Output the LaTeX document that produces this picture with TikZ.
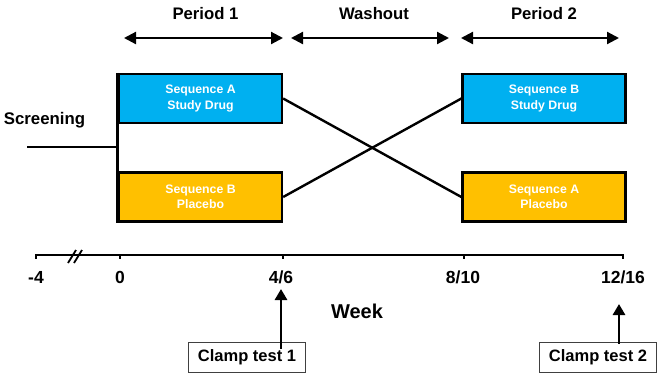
\documentclass[tikz,border=0pt]{standalone}
\usepackage{fontspec}
\setmainfont{Liberation Sans}
\usetikzlibrary{arrows.meta}
\definecolor{seqblue}{HTML}{00B0F0}
\definecolor{seqyellow}{HTML}{FFC000}
\tikzset{
  seqbox/.style={draw=black, line width=2.3pt, minimum width=163pt, minimum height=49pt,
    text=white, align=center, font=\fontsize{12.3}{15.5}\selectfont\bfseries, inner sep=0pt},
  toplabel/.style={font=\fontsize{16.7}{20}\selectfont\bfseries, inner sep=0pt},
  axlabel/.style={font=\fontsize{17.5}{20}\selectfont\bfseries, inner sep=0pt},
  periodarrow/.style={line width=2.2pt, {Triangle[length=12pt,width=12pt]}-{Triangle[length=12pt,width=12pt]}},
  uparrow/.style={line width=2.8pt, -{Triangle[length=11pt,width=12pt]}},
  plainline/.style={line width=2.4pt},
  clampbox/.style={draw=black!75, line width=0.9pt, minimum width=117pt, minimum height=30pt,
    font=\fontsize{16.5}{20}\selectfont\bfseries, inner sep=0pt},
}
\begin{document}
\begin{tikzpicture}[x=1pt,y=-1pt]
\useasboundingbox (0,0) rectangle (657,373);

% period labels and arrows
\node[toplabel] (per1) at (205.5,14) {Period 1};
\node[toplabel] (wash) at (374,14) {Washout};
\node[toplabel] (per2) at (544,14) {Period 2};
\coordinate (p1a) at (124,38);
\coordinate (p1b) at (283,38);
\coordinate (wa) at (291,38);
\coordinate (wb) at (449,38);
\coordinate (p2a) at (461,38);
\coordinate (p2b) at (619,38);
\draw[periodarrow] (p1a) -- (p1b);
\draw[periodarrow] (wa) -- (wb);
\draw[periodarrow] (p2a) -- (p2b);

% boxes
\node[seqbox, fill=seqblue] (A) at (200.5,98.5) {Sequence A\\Study Drug};
\node[seqbox, fill=seqyellow] (B) at (200.5,197) {Sequence B\\Placebo};
\node[seqbox, fill=seqblue] (C) at (544,98.5) {Sequence B\\Study Drug};
\node[seqbox, fill=seqyellow] (D) at (544,197) {Sequence A\\Placebo};

% screening
\node[font=\fontsize{16.8}{20}\selectfont\bfseries, inner sep=0pt] (scrtext) at (44.5,120) {Screening};
\coordinate (scr) at (27,147);
\draw[line width=2.8pt] (A.north west) -- (B.south west);
\draw[plainline] (scr) -- (scr -| A.west);

% crossover lines
\draw[plainline] (A.east) -- (D.west);
\draw[plainline] (B.east) -- (C.west);

% axis
\coordinate (ax0) at (36,255);
\coordinate (ax1) at (623,255);
\draw[plainline] (ax0) -- (ax1);
\foreach \x in {36,120,283,464,623} {
  \draw[line width=1.8pt] (\x,254) -- (\x,259);
}
\draw[line width=1.8pt] (68,263) -- (76,250);
\draw[line width=1.8pt] (74,263) -- (82,250);

\node[axlabel] (lm4) at (36,277) {-4};
\node[axlabel] (l0) at (120,277) {0};
\node[axlabel] (l46) at (281,277) {4/6};
\node[axlabel] (l810) at (463,277) {8/10};
\node[axlabel] (l1216) at (623,277) {12/16};
\node[font=\fontsize{20}{24}\selectfont\bfseries, inner sep=0pt] (week) at (357,311) {Week};

% clamp tests
\node[clampbox] (c1) at (247,357) {Clamp test 1};
\node[clampbox] (c2) at (598,357) {Clamp test 2};
\coordinate (c1tip) at (281,289);
\coordinate (c2tip) at (619,304);
\draw[uparrow] ([yshift=-7pt]c1.north -| c1tip) -- (c1tip);
\draw[uparrow] ([yshift=-2pt]c2.north -| c2tip) -- (c2tip);
\end{tikzpicture}
\end{document}
